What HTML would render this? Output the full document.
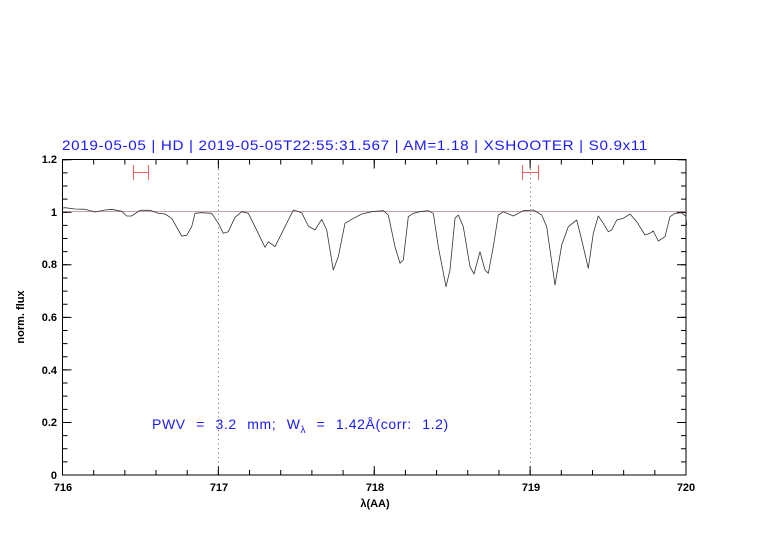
<!DOCTYPE html>
<html><head><meta charset="utf-8"><style>
body{margin:0;background:#fff;}
svg{display:block;}
text{font-family:"Liberation Sans",sans-serif;}
</style></head><body>
<svg width="782" height="542" viewBox="0 0 782 542" xmlns="http://www.w3.org/2000/svg">
<rect width="782" height="542" fill="#fff"/>
<text x="62" y="150" font-size="14" fill="#1a1aff" letter-spacing="0.6" textLength="586" lengthAdjust="spacingAndGlyphs">2019-05-05 | HD | 2019-05-05T22:55:31.567 | AM=1.18 | XSHOOTER | S0.9x11</text>
<rect x="62.5" y="159.5" width="623.5" height="315.5" fill="none" stroke="#000" stroke-width="1"/>
<line x1="62" y1="472.5" x2="687" y2="472.5" stroke="#000" stroke-width="5" stroke-dasharray="1 30.175"/>
<line x1="62" y1="162" x2="687" y2="162" stroke="#000" stroke-width="5" stroke-dasharray="1 30.175"/>
<line x1="62" y1="470.5" x2="687" y2="470.5" stroke="#000" stroke-width="9" stroke-dasharray="1 154.875"/>
<line x1="62" y1="164" x2="687" y2="164" stroke="#000" stroke-width="9" stroke-dasharray="1 154.875"/>
<line x1="65" y1="475.5" x2="65" y2="159" stroke="#000" stroke-width="5" stroke-dasharray="1 12.1375"/>
<line x1="683.5" y1="475.5" x2="683.5" y2="159" stroke="#000" stroke-width="5" stroke-dasharray="1 12.1375"/>
<line x1="67" y1="475.5" x2="67" y2="159" stroke="#000" stroke-width="9" stroke-dasharray="1 51.55"/>
<line x1="681.5" y1="475.5" x2="681.5" y2="159" stroke="#000" stroke-width="9" stroke-dasharray="1 51.55"/>
<g font-size="11" font-weight="bold" fill="#000" text-anchor="end">
<text x="57" y="163">1.2</text>
<text x="57" y="216">1</text>
<text x="57" y="268">0.8</text>
<text x="57" y="321">0.6</text>
<text x="57" y="374">0.4</text>
<text x="57" y="426">0.2</text>
<text x="57" y="479">0</text>
</g>
<g font-size="11" font-weight="bold" fill="#000" text-anchor="middle">
<text x="63" y="491">716</text>
<text x="219" y="491">717</text>
<text x="375" y="491">718</text>
<text x="531" y="491">719</text>
<text x="686" y="491">720</text>
<text x="375" y="507">λ(AA)</text>
</g>
<text transform="translate(24,317) rotate(-90)" font-size="11" font-weight="bold" text-anchor="middle">norm. flux</text>
<line x1="218.5" y1="160" x2="218.5" y2="475" stroke="#444" stroke-width="0.8" stroke-dasharray="1 3.5"/>
<line x1="530.5" y1="160" x2="530.5" y2="475" stroke="#444" stroke-width="0.8" stroke-dasharray="1 3.5"/>
<line x1="63" y1="211.5" x2="686" y2="211.5" stroke="#b08080" stroke-width="0.8"/>
<g stroke="#f06060" stroke-width="1">
<line x1="133" y1="172.5" x2="148" y2="172.5"/><line x1="133.5" y1="165" x2="133.5" y2="180"/><line x1="148.5" y1="165" x2="148.5" y2="180"/>
<line x1="522" y1="172.5" x2="538" y2="172.5"/><line x1="522.5" y1="165" x2="522.5" y2="180"/><line x1="538.5" y1="165" x2="538.5" y2="180"/>
</g>
<polyline fill="none" stroke="#333" stroke-width="0.8" stroke-linejoin="round" points="63,208 65,207.7 75,209 85,209.3 95,212 105,210 111.7,209.3 121.7,211.3 126.7,216 131.7,216 140,210.3 150,210.3 158.3,213.3 165,214 171.7,218.3 181.7,236 186.7,235.3 191.7,226.7 195,213.3 201.7,212.7 211.7,213.3 218.3,223.3 223.3,233.3 228.3,231.7 235,217.3 241.7,211.7 248.3,213.3 255,226.7 265,247.3 268.3,241.7 275,246.7 285,226.7 293.3,210 301.7,212.7 308.3,226 315,230 321.7,219.3 326.7,230 333.3,270 338.3,256.7 345,223.3 351.7,219.3 361.7,214 371.7,211.7 383.3,210.7 388.3,215 395,246.7 400,263.3 403.3,260 408.3,216.7 413.3,213.3 420,211.7 428.3,210.7 433.3,213.3 438.3,246.7 446,286.7 450,270 455,218.3 458.3,215 463.3,226.7 470,266.7 474,274 480,251.7 485,270 488.3,273.3 493.3,246.7 498.3,215 503.3,211.7 513.3,216 523.3,210.7 533.3,210 541.7,215 546.7,226.7 555,285 561.7,245 568.3,226.7 576.7,220 581.7,240 588.3,268.3 593.3,233.3 598.3,216 603.3,223.3 608.3,231.7 611.7,230 616.7,220 623.3,218.3 630,214 636.7,221.7 645,235 650,233.3 653.3,231 658.3,241 665,236.7 670,216.7 675,213.3 681.7,212.7 686,216.7 686.7,225"/>
<text x="152" y="429" font-size="14" fill="#1a1aff" word-spacing="6" letter-spacing="0.6">PWV = 3.2 mm; W<tspan font-size="10" dy="4">λ</tspan><tspan dy="-4"> = 1.42Å(corr: 1.2)</tspan></text>
</svg>
</body></html>
